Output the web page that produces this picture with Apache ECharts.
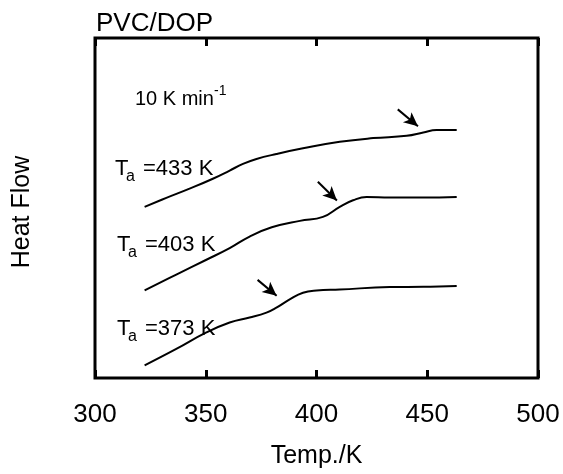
<!DOCTYPE html>
<html>
<head>
<meta charset="utf-8">
<script src="https://cdn.jsdelivr.net/npm/echarts@6/dist/echarts.min.js"></script>
<style>html,body{margin:0;padding:0;background:#fff}#c{width:563px;height:474px}</style>
</head>
<body>
<div id="c"></div>
<script>
// Temperature (K) and heat flow (arbitrary units) for each annealing temperature
const temp433 = [322.4, 332.2, 342.7, 353.2, 360.8, 366.8, 372.9, 381.9, 393.9, 410.5, 425.6, 440.7, 448.2, 454.2, 463.3];
const flow433 = [172.7, 181.7, 191, 201, 209.3, 216, 221, 226, 231.7, 238.3, 242, 244.3, 247.7, 250.3, 250.3];
const temp403 = [322.4, 336.7, 350.3, 360.8, 369.8, 379.8, 392.5, 402.9, 410.5, 416.5, 422.6, 433.1, 448.2, 463.3];
const flow403 = [88.3, 104.3, 119.3, 131, 142.7, 152, 158.5, 162.5, 172.7, 179.3, 182.7, 182, 182, 182.7];
const temp373 = [322.4, 336.7, 350.3, 360.8, 369.8, 377.4, 381.9, 387.9, 393.9, 400.0, 410.5, 433.1, 448.2, 463.3];
const flow373 = [12.7, 29.3, 46, 56, 61, 66, 71, 79.3, 86, 88.3, 89.3, 91.7, 92, 92.7];
// Arrows marking the glass transition: [tailT, tailFlow, headT, headFlow]
const arrow433 = [436.7, 271, 445.8, 254];
const arrow403 = [400.6, 198, 409.2, 179];
const arrow373 = [373.4, 99, 382.0, 83];
const xTicks = [300, 350, 400, 450, 500];
const curveLabels = ['433', '403', '373'];

const FONT = '"Liberation Sans", Arial, Helvetica, sans-serif';
const chart = echarts.init(document.getElementById('c'), null, {renderer: 'canvas'});

function pairs(xs, ys) { return xs.map((x, i) => [x, ys[i]]); }
function arrowLine(a) {
  return {
    silent: true,
    symbol: ['none', 'arrow'],
    symbolSize: [10, 14],
    label: {show: false},
    lineStyle: {color: '#000', width: 2, type: 'solid'},
    data: [[{coord: [a[0], a[1]]}, {coord: [a[2], a[3]]}]]
  };
}
function curve(name, xs, ys, a) {
  return {
    name: name, type: 'line', data: pairs(xs, ys), smooth: 0.45,
    showSymbol: false, symbol: 'none',
    lineStyle: {color: '#000', width: 2},
    markLine: arrowLine(a),
    animation: false
  };
}
function txt(s, x, y, fs) {
  return {type: 'text', x: x, y: y, style: {text: s, fontSize: fs, fontFamily: FONT, fill: '#000', verticalAlign: 'middle', align: 'left'}};
}
// T_a label: x = left of "T", y = vertical centre of capitals
function taLabel(v, x, y) {
  return {
    type: 'group', x: x, y: y,
    children: [
      txt('T', 0, 0, 22),
      txt('a', 11, 8, 16),
      txt('=' + v + ' K', 28, 0, 22)
    ]
  };
}

const option = {
  backgroundColor: '#fff',
  animation: false,
  grid: {left: 95, right: 25, top: 38, bottom: 93, show: true, borderColor: '#000', borderWidth: 3, backgroundColor: 'transparent'},
  xAxis: [{
    type: 'value', min: xTicks[0], max: xTicks[xTicks.length - 1], interval: xTicks[1] - xTicks[0],
    position: 'bottom',
    name: 'Temp./K', nameLocation: 'middle', nameGap: 66,
    nameTextStyle: {fontSize: 25, fontFamily: FONT, color: '#000'},
    axisLine: {show: false},
    axisTick: {show: true, inside: true, length: 8, lineStyle: {color: '#000', width: 3}},
    axisLabel: {fontSize: 26, fontFamily: FONT, color: '#000', margin: 24},
    splitLine: {show: false}
  }, {
    type: 'value', min: xTicks[0], max: xTicks[xTicks.length - 1], interval: xTicks[1] - xTicks[0],
    position: 'top',
    axisLine: {show: false},
    axisTick: {show: true, inside: true, length: 8, lineStyle: {color: '#000', width: 3}},
    axisLabel: {show: false},
    splitLine: {show: false}
  }],
  yAxis: {
    type: 'value', min: 0, max: 343,
    name: 'Heat Flow', nameLocation: 'middle', nameGap: 60,
    nameTextStyle: {fontSize: 25, fontFamily: FONT, color: '#000', padding: [0, 8, 0, 0]},
    axisLine: {show: false}, axisTick: {show: false}, axisLabel: {show: false}, splitLine: {show: false}
  },
  graphic: [
    {type: 'text', left: 96, top: 11, style: {text: 'PVC/DOP', fontSize: 26, fontFamily: FONT, fill: '#000'}},
    txt('10 K min', 135, 99, 20),
    txt('-1', 214, 91, 14),
    taLabel(curveLabels[0], 115, 169),
    taLabel(curveLabels[1], 117, 245),
    taLabel(curveLabels[2], 117, 329)
  ],
  series: [
    curve('433', temp433, flow433, arrow433),
    curve('403', temp403, flow403, arrow403),
    curve('373', temp373, flow373, arrow373)
  ]
};
chart.setOption(option);
</script>
</body>
</html>
